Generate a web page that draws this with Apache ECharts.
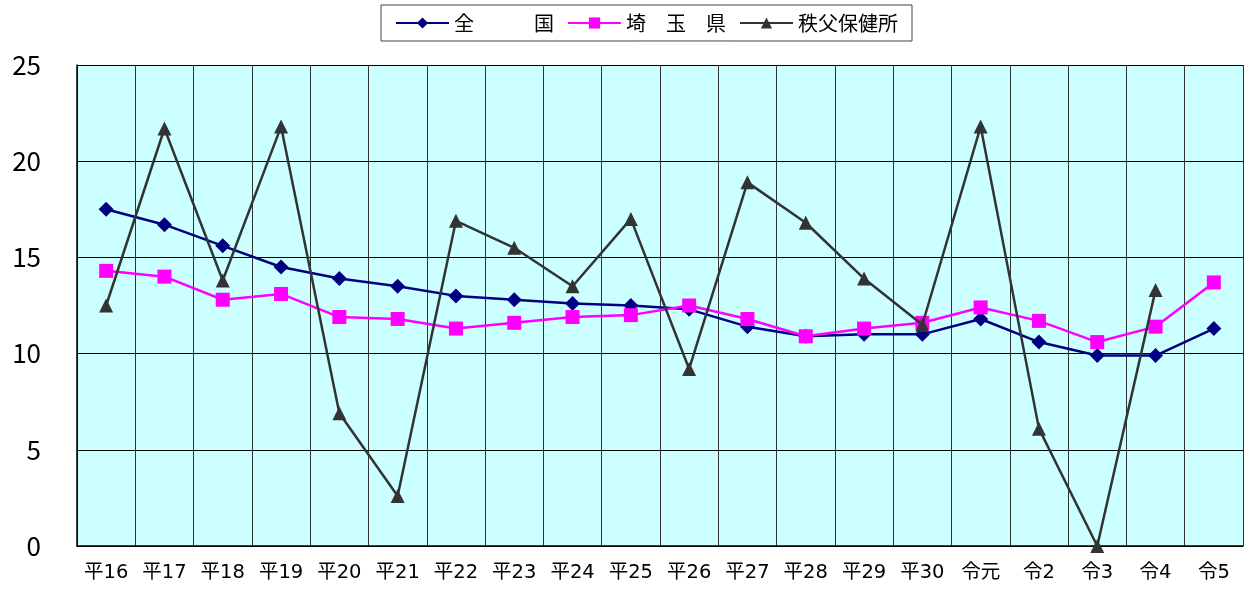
<!DOCTYPE html>
<html><head><meta charset="utf-8">
<script src="https://cdn.jsdelivr.net/npm/echarts@6/dist/echarts.min.js"></script>
<style>html,body{margin:0;padding:0;background:#fff}#c{width:1249px;height:593px}</style>
</head><body><div id="c"></div>
<script>
const categories = ['平16','平17','平18','平19','平20','平21','平22','平23','平24','平25','平26','平27','平28','平29','平30','令元','令2','令3','令4','令5'];
const zenkoku = [17.5,16.7,15.6,14.5,13.9,13.5,13.0,12.8,12.6,12.5,12.3,11.4,10.9,11.0,11.0,11.8,10.6,9.9,9.9,11.3];
const saitama = [14.3,14.0,12.8,13.1,11.9,11.8,11.3,11.6,11.9,12.0,12.5,11.8,10.9,11.3,11.6,12.4,11.7,10.6,11.4,13.7];
const chichibu = [12.5,21.7,13.8,21.8,6.9,2.6,16.9,15.5,13.5,17.0,9.2,18.9,16.8,13.9,11.5,21.8,6.1,0.0,13.3,null];
const seriesNames = ['全　　　国','埼　玉　県','秩父保健所'];
const yTicks = [0,5,10,15,20,25];

const font = 'Noto Sans CJK JP';
const labelFont = '"DejaVu Sans", "Noto Sans CJK JP"';
const chart = echarts.init(document.getElementById('c'));
chart.setOption({
  animation: false,
  backgroundColor: '#ffffff',
  textStyle: {fontFamily: font},
  legend: {
    top: 5, left: 381,
    data: seriesNames,
    borderColor: '#444', borderWidth: 1, backgroundColor: '#fff',
    padding: [8, 14, 8, 14],
    itemWidth: 53, itemHeight: 14, itemGap: 13,
    textStyle: {fontSize: 20, color: '#000', fontFamily: font}
  },
  grid: {left: 77, right: 6, top: 65, bottom: 47, show: true, backgroundColor: '#ccffff', borderWidth: 0},
  xAxis: {
    type: 'category', data: categories, boundaryGap: true,
    axisLine: {show: true, lineStyle: {color: '#000', width: 1.5}},
    axisTick: {show: false},
    axisLabel: {fontSize: 19.5, color: '#000', margin: 17, fontFamily: labelFont, interval: 0},
    splitLine: {show: true, interval: 0, lineStyle: {color: '#333', width: 1}}
  },
  yAxis: {
    type: 'value', min: yTicks[0], max: yTicks[yTicks.length-1], interval: 5,
    axisLine: {show: true, lineStyle: {color: '#000', width: 1.5}},
    axisTick: {show: false},
    axisLabel: {fontSize: 26, color: '#000', margin: 36, fontFamily: font},
    splitLine: {show: true, lineStyle: {color: '#000', width: 1}}
  },
  series: [
    {name: seriesNames[0], type: 'line', data: zenkoku, symbol: 'diamond', symbolSize: 15,
     lineStyle: {color: '#000080', width: 2.5}, itemStyle: {color: '#000080'}, z: 3},
    {name: seriesNames[1], type: 'line', data: saitama, symbol: 'rect', symbolSize: 14,
     lineStyle: {color: '#ff00ff', width: 2.5}, itemStyle: {color: '#ff00ff'}, z: 4},
    {name: seriesNames[2], type: 'line', data: chichibu, symbol: 'triangle', symbolSize: 14,
     lineStyle: {color: '#333333', width: 2.5}, itemStyle: {color: '#333333'}, z: 5}
  ]
});
</script></body></html>
